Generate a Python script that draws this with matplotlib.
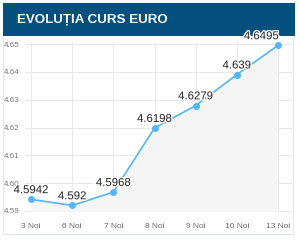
import matplotlib
matplotlib.use("Agg")
import matplotlib.pyplot as plt
import matplotlib.patheffects as pe
from matplotlib.patches import Rectangle

title = "EVOLUȚIA CURS EURO"
categories = ["3 Noi", "6 Noi", "7 Noi", "8 Noi", "9 Noi", "10 Noi", "13 Noi"]
values = [4.5942, 4.592, 4.5968, 4.6198, 4.6279, 4.639, 4.6495]
value_labels = ["4.5942", "4.592", "4.5968", "4.6198", "4.6279", "4.639", "4.6495"]
yticks = [4.59, 4.60, 4.61, 4.62, 4.63, 4.64, 4.65]
ytick_labels = ["4.59", "4.60", "4.61", "4.62", "4.63", "4.64", "4.65"]

plt.rcParams['font.family'] = ['Liberation Sans', 'DejaVu Sans']

W, H = 300, 242
fig = plt.figure(figsize=(W / 100, H / 100), dpi=100)
fig.patch.set_facecolor("white")

# panel border
fig.patches.append(Rectangle((3 / W, 1 - 234 / H), 290 / W, (234 - 3) / H,
                             transform=fig.transFigure, facecolor="white",
                             edgecolor="#e3e9ee", linewidth=0.8, zorder=-2))
# header bar
fig.patches.append(Rectangle((3 / W, 1 - 36 / H), 292 / W, 33 / H,
                             transform=fig.transFigure, facecolor="#03507f",
                             edgecolor="none", zorder=-1))
fig.text(17 / W, 1 - 20 / H, title, color="white", fontsize=9.6,
         fontweight="bold", va="center", ha="left")

left, right, top, bottom = 25, 292, 42, 212
ax = fig.add_axes([left / W, 1 - bottom / H, (right - left) / W, (bottom - top) / H])
ax.set_zorder(2)
ax.set_facecolor("none")

x = list(range(len(categories)))
pxx = 41.17
ax.set_xlim(-(31 - left) / pxx, 6 + (right - 278) / pxx)
ppy = 2783.0
ax.set_ylim(4.59 - (bottom - 211) / ppy, 4.65 + (44 - top) / ppy)

ax.fill_between(x, values, 4.5, color="#f5f5f5", zorder=1, linewidth=0)
ax.plot(x, values, color="#55b5f5", linewidth=1.2, marker="o", markersize=4,
        zorder=3, clip_on=False)

offsets = [0, 0, 0, 0, 0, 0, -12]
for i, (v, lab) in enumerate(zip(values, value_labels)):
    ax.annotate(lab, (i, v), xytext=(offsets[i], 3), textcoords="offset points",
                ha="center", va="bottom", fontsize=8.2, color="#222222",
                zorder=4, annotation_clip=False,
                path_effects=[pe.withStroke(linewidth=2, foreground="white")])

ax.set_xticks(x)
ax.set_xticklabels(categories)
ax.set_yticks(yticks)
ax.set_yticklabels(ytick_labels)
ax.tick_params(axis="x", length=0, pad=8, labelsize=6.0, colors="#666666")
ax.tick_params(axis="y", length=0, pad=4, labelsize=5.8, colors="#777777")
ax.grid(True, color="#e8e8e8", linewidth=0.7, zorder=0)
ax.set_axisbelow(True)
for s in ax.spines.values():
    s.set_visible(False)

fig.savefig("out.png", dpi=100)
